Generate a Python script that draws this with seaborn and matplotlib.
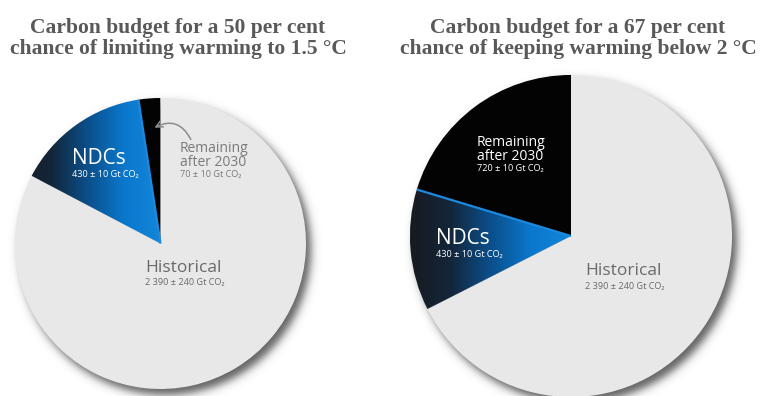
import numpy as np
import matplotlib
matplotlib.use("Agg")
import matplotlib.pyplot as plt
import seaborn as sns

# Carbon budget components (Gt CO2), drawn counter-clockwise from 12 o'clock
categories = ["Remaining after 2030", "NDCs", "Historical"]
budget_15c = [70, 430, 2390]
budget_2c = [720, 430, 2390]
uncertainty = [10, 10, 240]

titles = [
    "Carbon budget for a 50 per cent\nchance of limiting warming to 1.5 °C",
    "Carbon budget for a 67 per cent\nchance of keeping warming below 2 °C",
]

sns.set_theme(style="white")
LABEL_FONT = ["Open Sans", "DejaVu Sans"]
TITLE_FONT = ["Liberation Serif", "DejaVu Serif"]

W, H = 765, 396
fig = plt.figure(figsize=(W / 100, H / 100), dpi=100)
ax = fig.add_axes([0, 0, 1, 1])

HIST_COLOR = "#e9e8e9"
REMAIN_COLOR = "#030303"
ndc_cmap = sns.blend_palette(["#181a20", "#13263a", "#0b4f8c", "#0a78cc", "#1386da"], as_cmap=True)

# pie area proportional to the total budget
scale = 145.5 / np.sqrt(sum(budget_15c))
pies = [
    dict(values=budget_15c, center=(160.5, 243.5), title_x=178),
    dict(values=budget_2c, center=(571.0, 236.0), title_x=578),
]
for p in pies:
    p["r"] = scale * np.sqrt(sum(p["values"]))

# soft drop shadow below and to the right of each pie
yy, xx = np.mgrid[0:H, 0:W] + 0.5
alpha = np.zeros((H, W))
for p in pies:
    cx, cy = p["center"]
    d = np.hypot(xx - cx - 5, yy - cy - 6)
    alpha = np.maximum(alpha, 1.0 / (1.0 + np.exp((d - p["r"]) / 2.6)))
shadow = np.zeros((H, W, 4))
shadow[..., 3] = alpha * 0.62
ax.imshow(shadow, extent=[0, W, H, 0], origin="upper", zorder=0, interpolation="bilinear")

for p in pies:
    cx, cy = p["center"]
    r = p["r"]
    wedges, _ = ax.pie(
        p["values"], colors=[REMAIN_COLOR, HIST_COLOR, HIST_COLOR],
        startangle=-90, counterclock=False, radius=r, center=(cx, cy),
        wedgeprops=dict(linewidth=0, zorder=2),
    )
    # gradient fill for the NDC wedge
    grad = np.linspace(0, 1, 256).reshape(1, -1)
    img = ax.imshow(grad, cmap=ndc_cmap, aspect="auto",
                    extent=[cx - r, cx, cy + r, cy - r], zorder=3, interpolation="bilinear")
    img.set_clip_path(wedges[1])
    # thin blue edge between NDCs and remaining budget
    ang = np.deg2rad(-90 - 360 * p["values"][0] / sum(p["values"]))
    ax.plot([cx, cx + r * np.cos(ang)], [cy, cy + r * np.sin(ang)],
            color="#1a8ae0", lw=1.6, zorder=4, solid_capstyle="butt")

# titles
for p, t in zip(pies, titles):
    ax.text(p["title_x"], 38.5, t, ha="center", va="center", fontsize=15.5,
            family=TITLE_FONT, weight="bold", color="#595959", linespacing=1.12)


def label(x, y, name, value, err, color, big, line_px, gap_px, small=6.6):
    lines = name.split("\n")
    for i, ln in enumerate(lines):
        ax.text(x, y + i * line_px, ln, ha="left", va="center", fontsize=big,
                family=LABEL_FONT, color=color, zorder=6)
    ys = y + (len(lines) - 1) * line_px + gap_px
    val = f"{value:,}".replace(",", " ")
    ax.text(x, ys, f"{val} ± {err} Gt CO₂", ha="left", va="center", fontsize=small,
            family=LABEL_FONT, color=color, zorder=6)


# left pie labels
label(72, 159, "NDCs", budget_15c[1], uncertainty[1], "white", 15, 0, 15)
label(180, 149, "Remaining\nafter 2030", budget_15c[0], uncertainty[0], "#7a7a7a", 10, 14, 12)
label(145, 268, "Historical", budget_15c[2], uncertainty[2], "#6a6a6a", 12.5, 0, 15)
ax.annotate("", xy=(152, 129), xytext=(192, 142),
            arrowprops=dict(arrowstyle="->", color="#8c8c8c", lw=1.1,
                            connectionstyle="arc3,rad=0.55"), zorder=6)

# right pie labels
label(477, 142, "Remaining\nafter 2030", budget_2c[0], uncertainty[0], "white", 10, 14, 12)
label(436, 239, "NDCs", budget_2c[1], uncertainty[1], "white", 15, 0, 15)
label(585, 271, "Historical", budget_2c[2], uncertainty[2], "#6a6a6a", 12.5, 0, 15)

ax.set_xlim(0, W)
ax.set_ylim(H, 0)
ax.set_aspect("auto")
ax.axis("off")
fig.savefig("out.png", dpi=100, facecolor="white")
